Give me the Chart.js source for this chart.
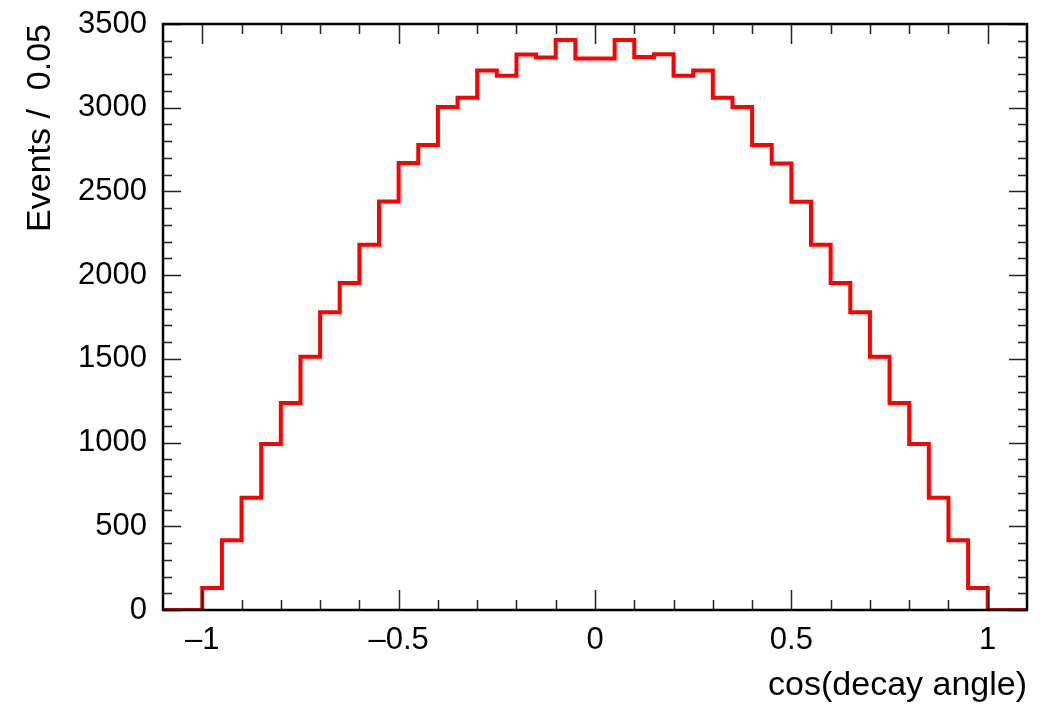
<!DOCTYPE html>
<html>
<head>
<meta charset="utf-8">
<script src="https://cdn.jsdelivr.net/npm/chart.js@4/dist/chart.umd.min.js"></script>
<style>
html,body{margin:0;padding:0;background:#fff;}
canvas{display:block;}
</style>
</head>
<body>
<canvas id="c" width="1048" height="713"></canvas>
<script>
// Histogram bin edges (cos(decay angle)), width 0.05
const binEdges = [-1.1,-1.05,-1.0,-0.95,-0.9,-0.85,-0.8,-0.75,-0.7,-0.65,-0.6,-0.55,-0.5,-0.45,-0.4,-0.35,-0.3,-0.25,-0.2,-0.15,-0.1,-0.05,0,
  0.05,0.1,0.15,0.2,0.25,0.3,0.35,0.4,0.45,0.5,0.55,0.6,0.65,0.7,0.75,0.8,0.85,0.9,0.95,1.0,1.05,1.1];
// Events per bin
const binCounts = [0,0,132,417,670,992,1237,1512,1778,1953,2182,2440,2670,2777,3004,3060,3222,3191,3318,3300,3404,3294,
  3294,3404,3303,3320,3191,3222,3059,3004,2777,2667,2439,2182,1953,1778,1512,1237,992,670,417,132,0,0];
const xTickLabels = [-1,-0.5,0,0.5,1];
const yTickLabels = [0,500,1000,1500,2000,2500,3000,3500];
const xTitle = 'cos(decay angle)';
const yTitle = 'Events /  0.05';

const points = binCounts.map((v,i)=>({x:binEdges[i], y:v}));
points.push({x:binEdges[binEdges.length-1], y:binCounts[binCounts.length-1]});

const FONT = "'Liberation Sans', Arial, Helvetica, sans-serif";

const rootFrame = {
  id:'rootFrame',
  afterDatasetsDraw(chart){
    const {ctx, chartArea:{left,right,top,bottom}, scales:{x,y}} = chart;
    ctx.save();
    ctx.strokeStyle = '#222';
    ctx.lineWidth = 1.5;
    ctx.beginPath();
    for (let k=-10;k<=10;k++){
      const v = k/10;
      const px = Math.round(x.getPixelForValue(v))+0.5;
      const len = (k%5===0)?20:10;
      ctx.moveTo(px,bottom); ctx.lineTo(px,bottom-len);
      ctx.moveTo(px,top); ctx.lineTo(px,top+len);
    }
    for (let k=0;k<=35;k++){
      const v = k*100;
      const py = Math.round(y.getPixelForValue(v))+0.5;
      const len = (k%5===0)?18:9;
      ctx.moveTo(left,py); ctx.lineTo(left+len,py);
      ctx.moveTo(right,py); ctx.lineTo(right-len,py);
    }
    ctx.stroke();
    ctx.strokeStyle = '#000';
    ctx.lineWidth = 2.5;
    ctx.strokeRect(left,top,right-left,bottom-top);
    ctx.restore();
  }
};

new Chart(document.getElementById('c'),{
  type:'line',
  data:{datasets:[{
    data:points,
    borderColor:'#ff0000',
    borderWidth:4,
    stepped:true,
    pointRadius:0,
    fill:false,
    tension:0
  }]},
  options:{
    responsive:false,
    animation:false,
    devicePixelRatio:1,
    layout:{padding:{left:0,top:24,right:21,bottom:0}},
    plugins:{legend:{display:false},tooltip:{enabled:false}},
    scales:{
      x:{
        type:'linear', min:-1.1, max:1.1,
        grid:{display:false, drawTicks:false},
        border:{display:false},
        afterBuildTicks(s){ s.ticks = xTickLabels.map(v=>({value:v})); },
        afterFit(s){ s.height = 103; s.paddingLeft = 0; s.paddingRight = 0; },
        ticks:{
          padding:12, maxRotation:0, autoSkip:false,
          color:'#000', font:{family:FONT,size:31},
          callback:(v)=> (v<0?'\u2013':'') + String(Math.abs(v))
        },
        title:{display:true,text:xTitle,align:'end',color:'#000',font:{family:FONT,size:34},padding:{top:0,bottom:7}}
      },
      y:{
        type:'linear', min:0, max:3500,
        grid:{display:false, drawTicks:false},
        border:{display:false},
        afterBuildTicks(s){ s.ticks = yTickLabels.map(v=>({value:v})); },
        afterFit(s){ s.width = 163; s.paddingTop = 0; s.paddingBottom = 0; },
        ticks:{
          padding:16, autoSkip:false,
          color:'#000', font:{family:FONT,size:31},
          callback:(v)=> String(v)
        },
        title:{display:true,text:yTitle,align:'end',color:'#000',font:{family:FONT,size:34},padding:{top:20,bottom:0}}
      }
    }
  },
  plugins:[rootFrame]
});
</script>
</body>
</html>
